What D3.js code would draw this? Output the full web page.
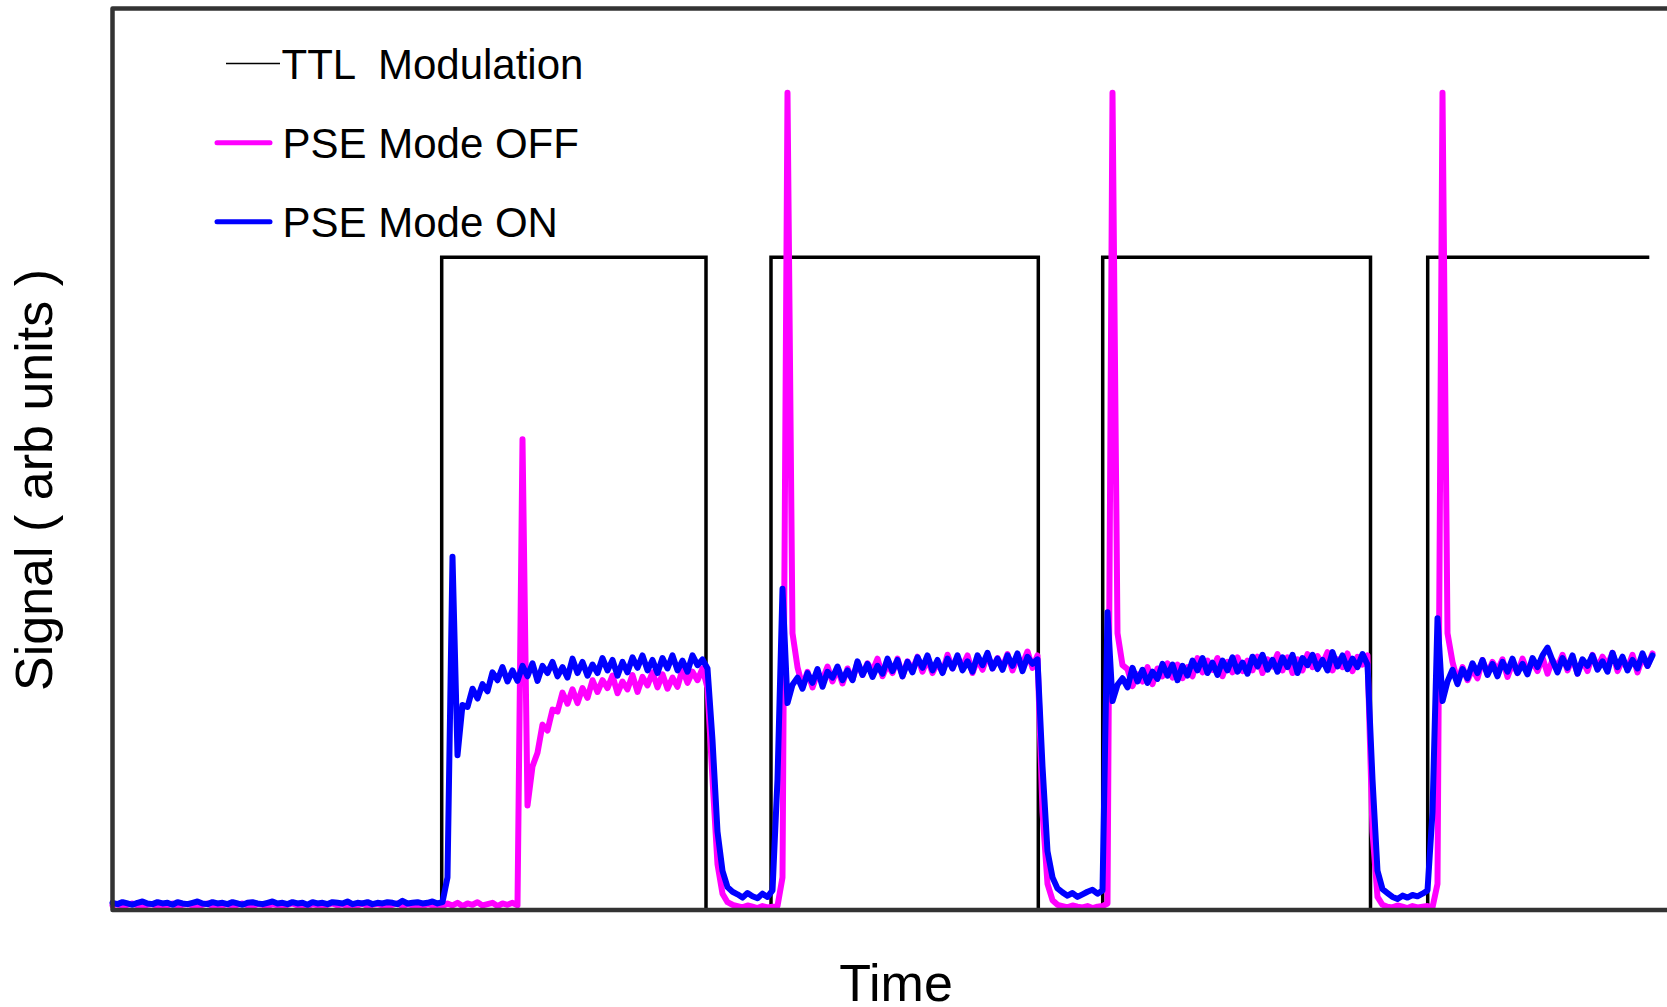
<!DOCTYPE html>
<html>
<head>
<meta charset="utf-8">
<script src="https://cdn.jsdelivr.net/npm/d3@7"></script>
<style>
  body { margin: 0; background: #fff; }
  text { font-family: "Liberation Sans", Arial, Helvetica, sans-serif; fill: #000; }
</style>
</head>
<body>
<div id="chart"></div>
<script>
// detector traces, one sample every 0.05 s starting at t = 0
var sampleStep = 0.05;

// PSE Mode ON (blue)
var onSignal = [
  .011,.009,.012,.010,.008,.011,.013,.010,.009,.012,
  .010,.011,.008,.012,.010,.009,.011,.013,.010,.009,
  .012,.010,.011,.009,.012,.010,.008,.011,.012,.010,
  .009,.011,.013,.010,.011,.009,.012,.010,.011,.008,
  .012,.010,.011,.009,.012,.011,.010,.013,.009,.011,
  .010,.012,.009,.011,.010,.012,.011,.009,.014,.010,
  .011,.012,.010,.011,.013,.010,.012,.050,.541,.237,
  .314,.311,.339,.324,.346,.335,.364,.352,.372,.350,
  .367,.351,.374,.358,.378,.351,.374,.363,.380,.358,
  .372,.356,.385,.363,.380,.359,.376,.363,.386,.367,
  .383,.359,.380,.364,.387,.371,.390,.367,.383,.363,
  .386,.370,.390,.367,.382,.365,.390,.375,.384,.370,
  .260,.120,.060,.035,.028,.024,.019,.026,.021,.018,
  .025,.020,.030,.200,.492,.317,.345,.356,.339,.363,
  .348,.369,.342,.365,.356,.373,.352,.367,.352,.381,
  .360,.377,.357,.374,.362,.385,.366,.383,.358,.380,
  .364,.387,.371,.390,.367,.383,.363,.385,.370,.390,
  .367,.381,.365,.390,.375,.394,.370,.385,.368,.390,
  .374,.393,.366,.388,.377,.384,.220,.090,.050,.033,
  .027,.022,.026,.020,.024,.028,.031,.025,.030,.456,
  .320,.345,.355,.341,.371,.350,.368,.348,.365,.354,
  .377,.359,.376,.352,.374,.359,.382,.367,.386,.363,
  .379,.360,.382,.367,.387,.365,.379,.362,.388,.373,
  .391,.368,.383,.365,.387,.372,.391,.363,.386,.375,
  .391,.369,.383,.367,.395,.373,.390,.369,.385,.372,
  .392,.376,.200,.060,.032,.026,.020,.017,.022,.019,
  .023,.021,.025,.030,.150,.447,.320,.350,.368,.346,
  .369,.355,.378,.363,.383,.360,.377,.358,.380,.365,
  .385,.363,.377,.361,.386,.372,.390,.402,.382,.364,
  .386,.371,.390,.362,.384,.374,.390,.368,.381,.365,
  .394,.372,.388,.367,.383,.370,.393,.374,.390
];

// PSE Mode OFF (magenta)
var offSignal = [
  .007,.009,.006,.008,.010,.007,.005,.008,.009,.006,
  .008,.007,.010,.006,.008,.009,.007,.005,.008,.010,
  .006,.008,.007,.009,.006,.008,.010,.007,.006,.009,
  .008,.006,.009,.007,.005,.008,.010,.007,.008,.006,
  .009,.007,.006,.008,.010,.007,.009,.006,.008,.007,
  .010,.006,.008,.009,.007,.005,.008,.010,.006,.009,
  .007,.008,.006,.009,.007,.008,.006,.010,.007,.011,
  .006,.010,.008,.012,.007,.009,.011,.006,.010,.008,
  .011,.007,.721,.160,.220,.241,.284,.275,.307,.304,
  .333,.316,.338,.317,.340,.325,.352,.334,.352,.340,
  .359,.332,.350,.338,.360,.334,.357,.344,.364,.341,
  .361,.339,.356,.342,.369,.348,.365,.352,.370,.340,
  .200,.070,.025,.012,.008,.006,.004,.007,.005,.003,
  .006,.004,.005,.006,.050,1.252,.424,.372,.342,.365,
  .341,.363,.353,.373,.350,.370,.347,.370,.353,.379,
  .360,.378,.366,.385,.358,.376,.363,.385,.358,.381,
  .368,.388,.365,.384,.363,.379,.364,.391,.370,.387,
  .373,.390,.363,.384,.368,.391,.370,.386,.371,.392,
  .367,.387,.377,.396,.371,.390,.150,.040,.015,.008,
  .006,.004,.007,.005,.004,.006,.003,.005,.006,.010,
  1.252,.424,.375,.369,.343,.361,.350,.372,.346,.370,
  .358,.378,.356,.376,.355,.372,.358,.386,.364,.382,
  .368,.386,.358,.380,.364,.387,.366,.382,.367,.388,
  .363,.384,.373,.392,.367,.387,.363,.384,.367,.392,
  .372,.389,.377,.395,.367,.384,.372,.393,.366,.388,
  .376,.390,.120,.020,.008,.005,.004,.007,.005,.003,
  .006,.004,.005,.006,.004,.040,1.252,.424,.380,.351,
  .372,.352,.369,.355,.383,.362,.380,.367,.384,.357,
  .378,.363,.385,.365,.381,.366,.387,.362,.383,.372,
  .391,.367,.386,.362,.383,.366,.391,.371,.388,.375,
  .394,.366,.383,.370,.391,.364,.387,.374,.393
];

// TTL modulation: switch times (s) and the level held from each one
var ttlTimes  = [0, 3.292, 5.935, 6.585, 9.258, 9.902, 12.580, 13.152, 15.368];
var ttlLevels = [0, 1,     0,     1,     0,     1,     0,      1,      1];

var legendLabels = ["TTL  Modulation", "PSE Mode OFF", "PSE Mode ON"];
var seriesColors = ["#000000", "#ff00ff", "#0000ff"];

var width = 1667, height = 1007;
var margin = {left: 112.5, top: 8.5, bottom: 97};

var svg = d3.select("#chart").append("svg")
  .attr("width", width)
  .attr("height", height);

var x = d3.scaleLinear().domain([0, 15.6]).range([margin.left, margin.left + 1560]);
var y = d3.scaleLinear().domain([0, 1.381]).range([height - margin.bottom, margin.top]);

function toPoints(values) {
  return values.map(function(v, i) { return [i * sampleStep, v]; });
}

var line = d3.line()
  .x(function(d) { return x(d[0]); })
  .y(function(d) { return y(d[1]); });

var stepLine = d3.line()
  .curve(d3.curveStepAfter)
  .x(function(d) { return x(d[0]); })
  .y(function(d) { return y(d[1]); });

// TTL square wave
svg.append("path")
  .datum(ttlTimes.map(function(t, i) { return [t, ttlLevels[i]]; }))
  .attr("d", stepLine)
  .attr("fill", "none")
  .attr("stroke", seriesColors[0])
  .attr("stroke-width", 3.5);

// traces: OFF under ON
[[offSignal, seriesColors[1]], [onSignal, seriesColors[2]]].forEach(function(s) {
  svg.append("path")
    .datum(toPoints(s[0]))
    .attr("d", line)
    .attr("fill", "none")
    .attr("stroke", s[1])
    .attr("stroke-width", 6)
    .attr("stroke-linejoin", "round")
    .attr("stroke-linecap", "round");
});

// frame: top, left and bottom edges (right one falls outside the picture)
var x0 = x.range()[0], x1 = x.range()[1];
var y0 = y.range()[0], y1 = y.range()[1];
svg.append("path")
  .attr("d", "M" + x1 + "," + y1 + "H" + x0 + "V" + y0 + "H" + x1)
  .attr("fill", "none")
  .attr("stroke", "#333")
  .attr("stroke-width", 4.5)
  .attr("stroke-linejoin", "round");

// legend
var legendY = [63.5, 142.7, 221.7];
var legend = svg.append("g");
legendLabels.forEach(function(label, i) {
  var first = i === 0;
  legend.append("line")
    .attr("x1", first ? 226 : 217)
    .attr("x2", first ? 280 : 270)
    .attr("y1", legendY[i])
    .attr("y2", legendY[i])
    .attr("stroke", seriesColors[i])
    .attr("stroke-width", first ? 1.5 : 5)
    .attr("stroke-linecap", first ? "butt" : "round");
  legend.append("text")
    .attr("x", first ? 281.5 : 282.5)
    .attr("y", legendY[i] + 15.5)
    .attr("font-size", 42)
    .attr("xml:space", "preserve")
    .text(label);
});

// axis titles
svg.append("text")
  .attr("x", 896)
  .attr("y", 1001)
  .attr("text-anchor", "middle")
  .attr("font-size", 52)
  .text("Time");

svg.append("text")
  .attr("transform", "translate(52,480) rotate(-90)")
  .attr("text-anchor", "middle")
  .attr("font-size", 52)
  .text("Signal ( arb units )");
</script>
</body>
</html>
